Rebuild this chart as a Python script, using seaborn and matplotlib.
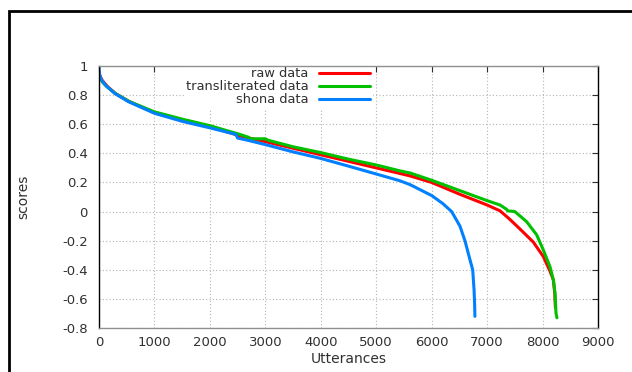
import numpy as np
import pandas as pd
import seaborn as sb
import matplotlib.pyplot as plt
from matplotlib.patches import Rectangle

# scores sorted per utterance
raw_x = [0, 20, 60, 150, 300, 550, 1000, 1500, 2000, 2540, 3000, 3500, 4000, 4500,
         5000, 5423, 5610, 6000, 6500, 7000, 7233, 7400, 7593, 7834, 8015, 8135,
         8195, 8220, 8232]
raw_y = [0.96, 0.93, 0.90, 0.86, 0.81, 0.755, 0.68, 0.63, 0.585, 0.52, 0.48, 0.435,
         0.39, 0.345, 0.30, 0.262, 0.245, 0.20, 0.12, 0.045, 0.005, -0.05, -0.12,
         -0.21, -0.31, -0.41, -0.47, -0.56, -0.66]

trans_x = [0, 20, 60, 150, 300, 550, 1000, 1500, 2000, 2540, 2700, 2710, 3000, 3050,
           3500, 4000, 4500, 5000, 5423, 5610, 6000, 6500, 7000, 7233, 7353, 7370,
           7500, 7714, 7894, 8015, 8135, 8195, 8225, 8243, 8260]
trans_y = [0.95, 0.92, 0.89, 0.855, 0.81, 0.755, 0.685, 0.635, 0.59, 0.53, 0.51,
           0.50, 0.50, 0.49, 0.445, 0.405, 0.36, 0.32, 0.28, 0.265, 0.215, 0.145,
           0.075, 0.045, 0.015, 0.005, 0.0, -0.07, -0.16, -0.265, -0.38, -0.47,
           -0.56, -0.70, -0.73]

shona_x = [0, 5, 15, 45, 110, 290, 530, 1000, 1500, 2000, 2470, 2500, 2680, 3000,
           3500, 4000, 4500, 5000, 5423, 5610, 6000, 6200, 6360, 6510, 6600, 6690,
           6740, 6765, 6775, 6780]
shona_y = [1.0, 0.96, 0.93, 0.905, 0.87, 0.81, 0.755, 0.675, 0.62, 0.575, 0.53,
           0.505, 0.49, 0.46, 0.41, 0.365, 0.312, 0.258, 0.212, 0.185, 0.11, 0.055,
           0.0, -0.10, -0.20, -0.33, -0.40, -0.54, -0.64, -0.72]

labels = ['raw data', 'transliterated data', 'shona data']
colors = ['#ff0000', '#00c000', '#0080ff']

df = pd.concat([
    pd.DataFrame({'Utterances': raw_x, 'scores': raw_y, 'set': labels[0]}),
    pd.DataFrame({'Utterances': trans_x, 'scores': trans_y, 'set': labels[1]}),
    pd.DataFrame({'Utterances': shona_x, 'scores': shona_y, 'set': labels[2]}),
])

sb.set_style('white')
plt.rcParams['font.family'] = ['DejaVu Sans']

fig = plt.figure(figsize=(6.32, 3.72), dpi=100)
ax = fig.add_axes([99 / 632, 1 - 328 / 372, 499 / 632, 262 / 372])

sb.lineplot(data=df, x='Utterances', y='scores', hue='set', palette=colors,
            sort=False, estimator=None, linewidth=2.2, legend=False, ax=ax)

ax.set_xlim(0, 9000)
ax.set_ylim(-0.8, 1)
ax.set_xticks(np.arange(0, 9001, 1000))
ax.set_yticks(np.arange(-0.8, 1.01, 0.2))
ax.set_yticklabels(['-0.8', '-0.6', '-0.4', '-0.2', '0', '0.2', '0.4', '0.6', '0.8', '1'])
ax.grid(True, color='#b4b4b4', linestyle=(0, (1, 2)), linewidth=0.8)
ax.tick_params(direction='in', length=4, width=0.8, top=True, right=True,
               labelsize=9.5, colors='#303030', pad=8)
ax.tick_params(axis='x', pad=6)
for s in ['left', 'right']:
    ax.spines[s].set_color('#000000')
for s in ['top', 'bottom']:
    ax.spines[s].set_color('#909090')
for s in ax.spines.values():
    s.set_linewidth(1.0)

ax.set_xlabel('Utterances', fontsize=10, color='#303030', labelpad=2)
ax.set_ylabel('scores', fontsize=10, color='#303030', labelpad=23)

handles = ax.get_lines()[:3]
leg = ax.legend(handles, labels, loc='upper right',
                bbox_to_anchor=(274 / 499, 1.0 + 2 / 262),
                markerfirst=False, frameon=True, fancybox=False, framealpha=1,
                edgecolor='white', facecolor='white', fontsize=9.4,
                handlelength=3.9, handletextpad=0.8, labelspacing=0.0,
                borderpad=0.15, borderaxespad=0.1)
leg.set_zorder(2.2)  # keep the spines and ticks drawn over the key box
for t in leg.get_texts():
    t.set_color('#303030')

fig.add_artist(Rectangle((9 / 632, -0.1), 2, 1.1 - 11 / 372, transform=fig.transFigure,
                         fill=False, edgecolor='black', linewidth=2))

fig.savefig('out.png', dpi=100)
